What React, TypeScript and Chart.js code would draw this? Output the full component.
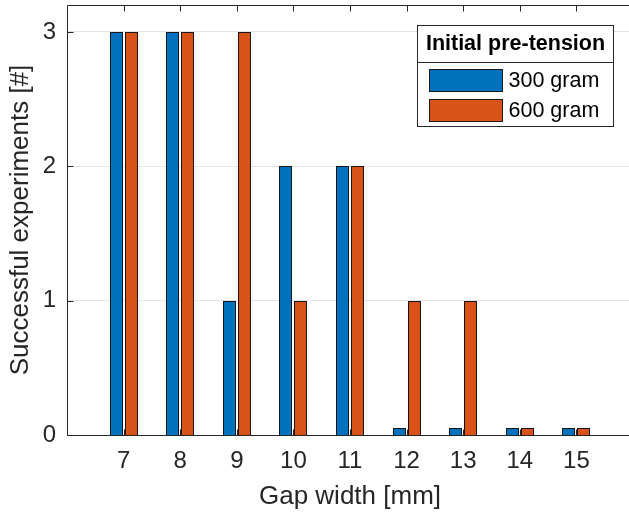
import React, { useEffect, useRef } from 'react';
import { Chart, registerables } from 'chart.js';

Chart.register(...registerables);

const gapWidths = [7, 8, 9, 10, 11, 12, 13, 14, 15];
const success300 = [3, 3, 1, 2, 2, 0.05, 0.05, 0.05, 0.05];
const success600 = [3, 3, 3, 1, 2, 1, 1, 0.05, 0.05];
const yTicks = [0, 1, 2, 3];
const seriesLabels = ['300 gram', '600 gram'];
const seriesColors = ['#0072BD', '#D95319'];
const legendTitle = 'Initial pre-tension';
const xTitle = 'Gap width [mm]';
const yTitle = 'Successful experiments [#]';

const FONT = "'Liberation Sans', Arial, Helvetica, sans-serif";
const AXIS_COLOR = '#262626';

const snapPlugin = {
  id: 'snapBars',
  afterDatasetsUpdate(chart: any) {
    chart.data.datasets.forEach((_: any, i: number) => {
      const meta = chart.getDatasetMeta(i);
      meta.data.forEach((el: any) => {
        const w = Math.round(el.width);
        el.width = w;
        el.x = Math.round(el.x - w / 2) + w / 2;
        el.y = Math.round(el.y);
        el.base = Math.round(el.base);
      });
    });
  },
};

const boxPlugin = {
  id: 'matlabBox',
  afterDatasetsDraw(chart: any) {
    const { ctx, chartArea } = chart;
    const { left, right, top, bottom } = chartArea;
    const xs = chart.scales.x;
    const ys = chart.scales.y;
    const r = (v: number) => Math.round(v) + 0.5;
    ctx.save();
    ctx.strokeStyle = AXIS_COLOR;
    ctx.lineWidth = 1;
    ctx.beginPath();
    ctx.moveTo(r(right), r(top));
    ctx.lineTo(r(left), r(top));
    ctx.lineTo(r(left), r(bottom));
    ctx.lineTo(r(right), r(bottom));
    const tl = 6;
    gapWidths.forEach((g) => {
      const px = r(xs.getPixelForValue(g));
      ctx.moveTo(px, r(top));
      ctx.lineTo(px, r(top) + tl);
      ctx.moveTo(px, r(bottom));
      ctx.lineTo(px, r(bottom) - tl);
    });
    yTicks.forEach((t) => {
      const py = r(ys.getPixelForValue(t));
      ctx.moveTo(r(left), py);
      ctx.lineTo(r(left) + tl, py);
    });
    ctx.stroke();
    ctx.restore();
  },
  afterDraw(chart: any) {
    const { ctx, chartArea } = chart;
    const bx = Math.round(chartArea.right) - 216 + 0.5;
    const bw = 196;
    const by = Math.round(chartArea.top) + 20 + 0.5;
    const bh = 101;
    const sep = by + 37;
    ctx.save();
    ctx.fillStyle = '#ffffff';
    ctx.fillRect(bx, by, bw, bh);
    ctx.strokeStyle = AXIS_COLOR;
    ctx.lineWidth = 1;
    ctx.strokeRect(bx, by, bw, bh);
    ctx.beginPath();
    ctx.moveTo(bx, sep);
    ctx.lineTo(bx + bw, sep);
    ctx.stroke();
    ctx.fillStyle = '#000000';
    ctx.textBaseline = 'middle';
    ctx.textAlign = 'center';
    ctx.font = `bold 21.5px ${FONT}`;
    ctx.fillText(legendTitle, bx + bw / 2, by + 19);
    ctx.textAlign = 'left';
    ctx.font = `21.5px ${FONT}`;
    seriesLabels.forEach((lab, i) => {
      const cy = sep + 18 + i * 30;
      ctx.fillStyle = seriesColors[i];
      ctx.fillRect(bx + 12, cy - 11, 73, 22);
      ctx.strokeStyle = '#1a1a1a';
      ctx.strokeRect(bx + 12, cy - 11, 73, 22);
      ctx.fillStyle = '#000000';
      ctx.fillText(lab, bx + 91, cy + 1);
    });
    ctx.restore();
  },
};

const zeroPad = (s: any) => {
  s.paddingTop = 0;
  s.paddingBottom = 0;
  s.paddingLeft = 0;
  s.paddingRight = 0;
};

export default function App() {
  const canvasRef = useRef<HTMLCanvasElement | null>(null);

  useEffect(() => {
    if (!canvasRef.current) return;
    const mk = (vals: number[], i: number) => ({
      label: seriesLabels[i],
      data: gapWidths.map((g, k) => ({ x: g, y: vals[k] })),
      backgroundColor: seriesColors[i],
      borderColor: '#161616',
      borderWidth: 1,
      categoryPercentage: 0.53,
      barPercentage: 0.9,
    });
    const chart = new Chart(canvasRef.current, {
      type: 'bar',
      data: {
        datasets: [mk(success300, 0), mk(success600, 1)] as any,
      },
      options: {
        animation: false,
        responsive: false,
        devicePixelRatio: 1,
        layout: { padding: { left: 0, right: 7, top: 5, bottom: 0 } },
        plugins: {
          legend: { display: false },
          tooltip: { enabled: false },
        },
        scales: {
          x: {
            type: 'linear',
            min: 6,
            max: 16,
            offset: false,
            afterBuildTicks: (s: any) => {
              s.ticks = gapWidths.map((v) => ({ value: v }));
            },
            afterFit: (s: any) => {
              s.height = 79;
              zeroPad(s);
            },
            ticks: {
              autoSkip: false,
              maxRotation: 0,
              padding: 12,
              color: AXIS_COLOR,
              font: { family: FONT, size: 24 },
              callback: (v: any) => String(v),
            },
            grid: { display: false, drawTicks: false },
            border: { display: false },
            title: {
              display: true,
              text: xTitle,
              color: AXIS_COLOR,
              font: { family: FONT, size: 26 },
              padding: { top: 0, bottom: 1.5 },
            },
          },
          y: {
            min: 0,
            max: 3.2,
            afterBuildTicks: (s: any) => {
              s.ticks = yTicks.map((v) => ({ value: v }));
            },
            afterFit: (s: any) => {
              s.width = 67;
              zeroPad(s);
            },
            ticks: {
              padding: 11,
              color: AXIS_COLOR,
              font: { family: FONT, size: 24 },
              callback: (v: any) => String(v),
            },
            grid: { color: '#e3e3e3', lineWidth: 1, drawTicks: false },
            border: { display: false },
            title: {
              display: true,
              text: yTitle,
              color: AXIS_COLOR,
              font: { family: FONT, size: 26 },
              padding: { top: 5, bottom: 0 },
            },
          },
        },
      } as any,
      plugins: [snapPlugin, boxPlugin],
    });
    return () => chart.destroy();
  }, []);

  return (
    <div
      style={{
        position: 'fixed',
        left: 0,
        top: 0,
        width: 629,
        height: 514,
        overflow: 'hidden',
        background: '#ffffff',
      }}
    >
      <canvas ref={canvasRef} width={640} height={514} style={{ display: 'block' }} />
    </div>
  );
}
